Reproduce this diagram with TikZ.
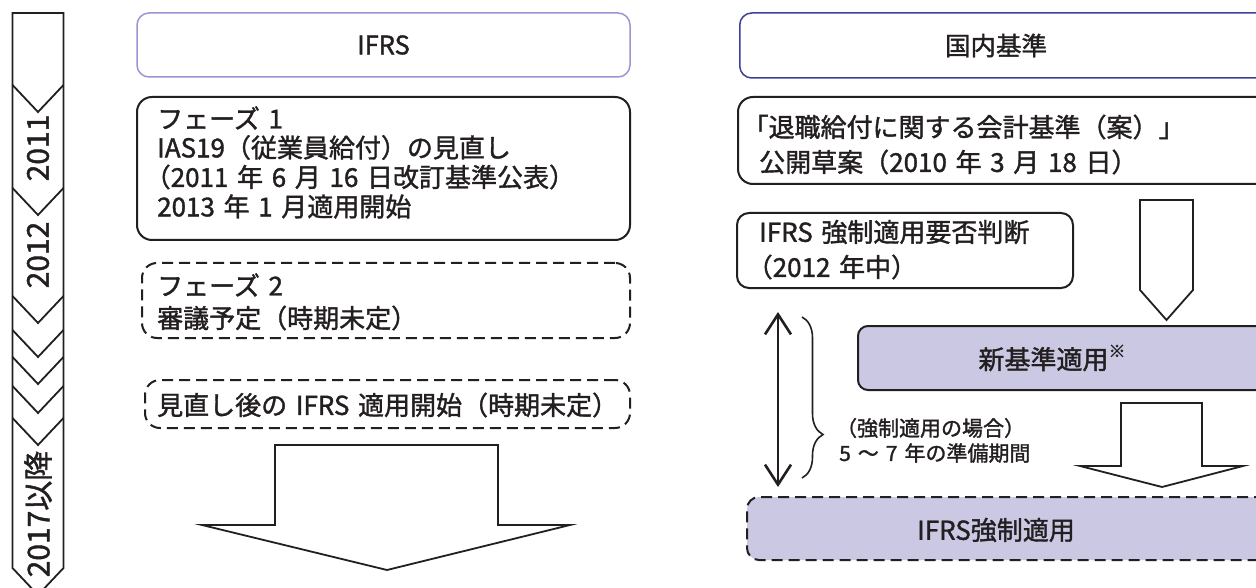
\documentclass[tikz,border=0pt]{standalone}
\usepackage{fontspec}
\setmainfont{Noto Sans CJK JP}[FakeBold=1.4]
\usetikzlibrary{arrows.meta,decorations.pathreplacing}
\definecolor{lav}{HTML}{CBC8E4}
\definecolor{hdrA}{HTML}{9A96D2}
\definecolor{hdrB}{HTML}{3C409C}
\definecolor{ink}{HTML}{231F20}
\newcommand\opar{\hspace*{-.48em}}
\newcommand\obrk{\hspace*{-.64em}}
\tikzset{
  hdr/.style={draw, rounded corners=12pt, line width=1.5pt, inner sep=0pt},
  sbox/.style={draw=ink, rounded corners=15pt, line width=2pt, inner sep=0pt},
  dbox/.style={sbox, dash pattern=on 11pt off 6pt},
  txt/.style={anchor=west, align=left, text width=500pt, inner sep=0pt, text=ink, font=\fontsize{26}{30}\selectfont},
  stxt/.style={txt, text width=300pt, font=\fontsize{21}{25}\selectfont},
  ctxt/.style={inner sep=0pt, text=ink, font=\fontsize{26}{30}\selectfont},
  htxt/.style={inner sep=0pt, text=ink, font=\fontsize{25.5}{28}\selectfont},
  ytxt/.style={inner sep=0pt, rotate=90, text=ink, font=\fontsize{30}{30}\selectfont},
  bigarrow/.style={draw=ink, line width=1.8pt, line join=miter, fill=white},
  strip/.style={draw=ink, line width=1.8pt, line join=miter},
}
\begin{document}
\begin{tikzpicture}[x=1pt,y=-1pt]
\useasboundingbox (0,0) rectangle (1256,588);
\clip (0,0) rectangle (1256,588);
\fill[white] (0,0) rectangle (1256,588);

% ---------- time strip ----------
\draw[strip] (12.5,13) -- (63.5,13) -- (63.5,568) -- (38,595) -- (12.5,568) -- cycle;
\foreach \ys in {85,188,296,330,357,386,418}{
  \draw[strip] (12.5,\ys) -- (38,\ys+27) -- (63.5,\ys);
}
\node[ytxt] (y2011) at (38,148) {2011};
\node[ytxt] (y2012) at (38,255) {2012};
\node[ytxt] (y2017) at (38,514) {2017以降};

% ---------- IFRS column ----------
\node[hdr, draw=hdrA, minimum width=493pt, minimum height=64pt] (ifrs) at (383.5,45) {};
\node[htxt] (ifrst) at (ifrs.center) {IFRS};

\node[sbox, minimum width=493pt, minimum height=143pt] (ph1) at (383.5,168.5) {};
\node[txt] (ph1a) at (157,118) {フェーズ 1};
\node[txt] (ph1b) at (157,147.5) {IAS19（従業員給付）の見直し};
\node[txt] (ph1c) at (157,177) {\opar（2011 年 6 月 16 日改訂基準公表）};
\node[txt] (ph1d) at (157,206.5) {2013 年 1 月適用開始};

\node[dbox, minimum width=488pt, minimum height=75pt] (ph2) at (386,300.5) {};
\node[txt] (ph2a) at (157,285) {フェーズ 2};
\node[txt] (ph2b) at (157,318) {審議予定（時期未定）};

\node[dbox, minimum width=485pt, minimum height=48pt] (after) at (387.5,404) {};
\node[txt] (aftert) at (157,405) {見直し後の IFRS 適用開始（時期未定）};

\draw[bigarrow] (275,445) -- (498,445) -- (498,525) -- (570,525) -- (387,570) -- (202,525) -- (275,525) -- cycle;

% ---------- domestic column ----------
\node[hdr, draw=hdrB, minimum width=540pt, minimum height=65pt, anchor=west] (dom) at (739,45.5) {};
\node[htxt] (domt) at (996,45.5) {国内基準};

\node[sbox, minimum width=540pt, minimum height=87pt, anchor=west] (ed) at (737,140.5) {};
\node[txt] (eda) at (759,127) {\obrk「退職給付に関する会計基準（案）」};
\node[txt] (edb) at (759,162) {公開草案（2010 年 3 月 18 日）};

\node[sbox, rounded corners=12pt, minimum width=336pt, minimum height=75pt] (judge) at (905,250.5) {};
\node[txt] (judgea) at (759,232) {IFRS 強制適用要否判断};
\node[txt] (judgeb) at (759,267) {\opar（2012 年中）};

\draw[bigarrow] (1140,200) -- (1193,200) -- (1193,290) -- (1166.5,320) -- (1140,290) -- cycle;

\node[sbox, rounded corners=10pt, fill=lav, minimum width=420pt, minimum height=64pt, anchor=west] (newstd) at (857,358) {};
\node[ctxt] (newstdt) at (1052,358) {新基準適用\raisebox{0.45em}{\fontsize{17}{17}\selectfont ※}};

\draw[bigarrow] (1121,403) -- (1202,403) -- (1202,466) -- (1243,466) -- (1162,487) -- (1080,466) -- (1121,466) -- cycle;

\node[dbox, rounded corners=12pt, fill=lav, minimum width=530pt, minimum height=63pt, anchor=west] (mand) at (746,528.5) {};
\node[ctxt] (mandt) at (996,530) {IFRS強制適用};

% period arrow and brace
\coordinate (pa) at (778,312);
\coordinate (pb) at (778,487);
\draw[draw=ink, line width=2.6pt, {Straight Barb[length=20pt,width=26pt]}-{Straight Barb[length=20pt,width=26pt]}] (pa) -- (pb);
\coordinate (ba) at (802,317);
\coordinate (bb) at (802,478);
\draw[draw=ink, line width=1.6pt, decorate, decoration={brace, amplitude=21pt, aspect=0.73}] (ba) -- (bb);
\node[stxt] (pera) at (839,428) {\hspace*{-.15em}（強制適用の場合）};
\node[stxt] (perb) at (839,453) {5 ～ 7 年の準備期間};
\end{tikzpicture}
\end{document}
